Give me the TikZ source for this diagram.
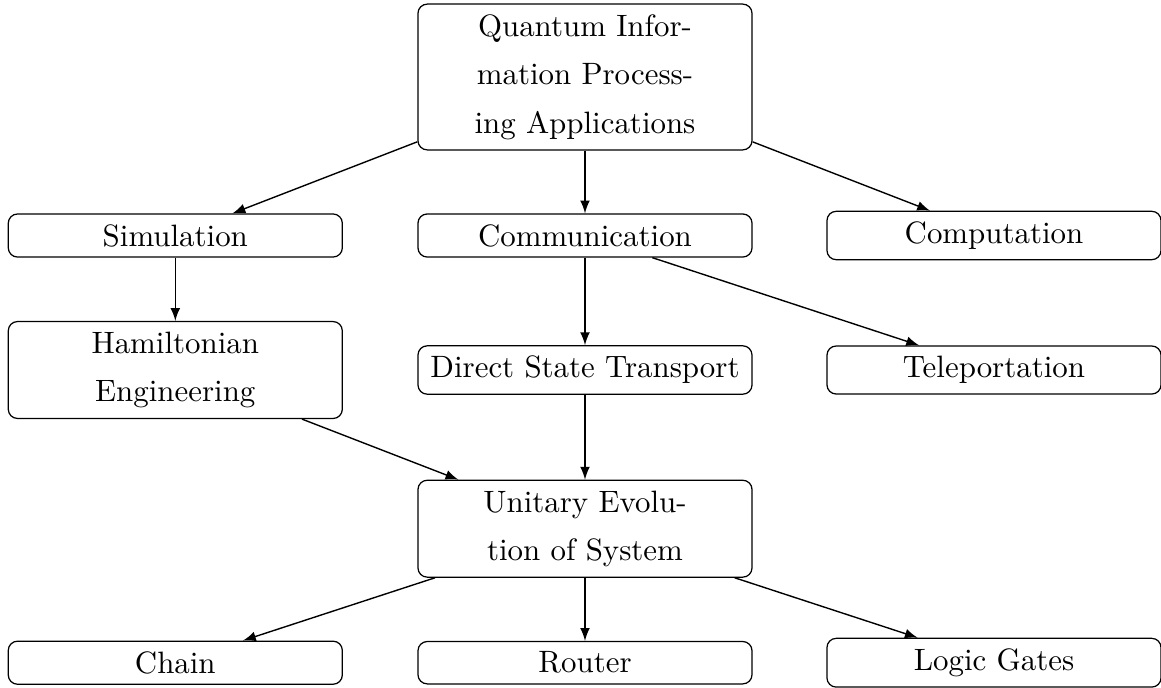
\documentclass[tikz,border=0pt]{standalone}
\usetikzlibrary{arrows}
\begin{document}
\begin{tikzpicture}[x=0.3236pt,y=-0.3236pt,
  box/.style={draw, rounded corners=3pt, minimum width=108.1pt, align=center,
    inner sep=0.3333em, font=\fontsize{10}{15.7}\selectfont},
  arr/.style={-latex, line width=0.45pt}]
\useasboundingbox (0,0) rectangle (1161,687);
\node[box] (qip) at (585,77) {Quantum Infor-\\mation Process-\\ing Applications};
\node[box] (sim) at (175.3,235.5) {Simulation};
\node[box] (com) at (585,235.5) {Communication};
\node[box] (cmp) at (994,235.5) {Computation};
\node[box] (ham) at (175.3,370) {Hamiltonian\\Engineering};
\node[box] (dst) at (585,370) {Direct State Transport};
\node[box] (tel) at (994,370) {Teleportation};
\node[box] (uni) at (585,528.7) {Unitary Evolu-\\tion of System};
\node[box] (cha) at (175.3,662.7) {Chain};
\node[box] (rou) at (585,662.7) {Router};
\node[box] (log) at (994,662.7) {Logic Gates};
\draw[arr] (qip) -- (sim);
\draw[arr] (qip) -- (com);
\draw[arr] (qip) -- (cmp);
\draw[arr] (sim) -- (ham);
\draw[arr] (com) -- (dst);
\draw[arr] (com) -- (tel);
\draw[arr] (ham) -- (uni);
\draw[arr] (dst) -- (uni);
\draw[arr] (uni) -- (cha);
\draw[arr] (uni) -- (rou);
\draw[arr] (uni) -- (log);
\end{tikzpicture}
\end{document}
